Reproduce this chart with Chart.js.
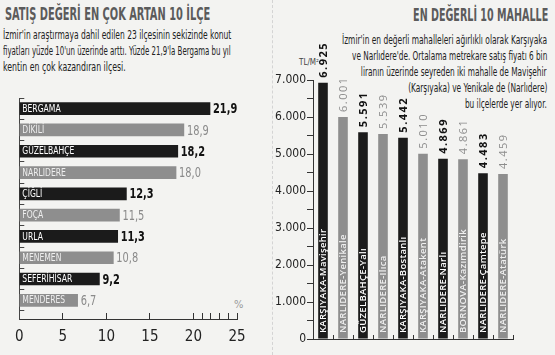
<!DOCTYPE html>
<html><head><meta charset="utf-8">
<script src="https://cdn.jsdelivr.net/npm/chart.js@4"></script>
<style>
html,body{margin:0;padding:0;}
body{width:555px;height:355px;background:#f3f3f1;position:relative;overflow:hidden;font-family:'Liberation Sans Narrow','DejaVu Sans Condensed',sans-serif;}
.t{position:absolute;white-space:nowrap;line-height:1;display:inline-block;}
.l{transform-origin:left center;}
.r{transform-origin:right center;}
.title{font-weight:bold;color:#5b5b5b;font-size:18px;}
.desc{color:#222;font-size:13px;}
.sep{position:absolute;left:272px;top:0;width:0;height:355px;border-left:1px dashed #d4d4d4;}
canvas{position:absolute;}
</style></head><body>
<div class="t l title" style="left:5px;top:5px" data-w="205">SATIŞ DEĞERİ EN ÇOK ARTAN 10 İLÇE</div>
<div class="t l desc" style="left:3px;top:28px" data-w="228">İzmir'in araştırmaya dahil edilen 23 ilçesinin sekizinde konut</div>
<div class="t l desc" style="left:3px;top:44px" data-w="228">fiyatları yüzde 10'un üzerinde arttı. Yüzde 21,9'la Bergama bu yıl</div>
<div class="t l desc" style="left:3px;top:60px" data-w="123">kentin en çok kazandıran ilçesi.</div>
<div class="t l" style="left:234px;top:299px;font-size:11px;color:#999">%</div>
<div class="sep"></div>
<div class="t r title" style="right:7px;top:6px" data-w="135">EN DEĞERLİ 10 MAHALLE</div>
<div class="t r desc" style="right:8px;top:33px" data-w="205">İzmir'in en değerli mahalleleri ağırlıklı olarak Karşıyaka</div>
<div class="t r desc" style="right:8px;top:49px" data-w="195">ve Narlıdere'de. Ortalama metrekare satış fiyatı 6 bin</div>
<div class="t r desc" style="right:8px;top:65px" data-w="186">liranın üzerinde seyreden iki mahalle de Mavişehir</div>
<div class="t r desc" style="right:8px;top:81px" data-w="139">(Karşıyaka) ve Yenikale de (Narlıdere)</div>
<div class="t r desc" style="right:8px;top:97px" data-w="82">bu ilçelerde yer alıyor.</div>
<div class="t l" style="left:299px;top:59px;font-size:8px;color:#444">TL/M²</div>
<canvas id="c1" width="275" height="265" style="left:0;top:90px;width:275px;height:265px"></canvas>
<canvas id="c2" width="293" height="325" style="left:262px;top:30px;width:293px;height:325px"></canvas>
<script>
// ---- data ----
const districts = ['BERGAMA','DİKİLİ','GÜZELBAHÇE','NARLIDERE','ÇİĞLİ','FOÇA','URLA','MENEMEN','SEFERİHİSAR','MENDERES'];
const increasePct = [21.9,18.9,18.2,18.0,12.3,11.5,11.3,10.8,9.2,6.7];
const pctTicks = [0,5,10,15,20,25];
const pctMinorTicks = [21,22,23,24];

const neighborhoods = ['KARŞIYAKA-Mavişehir','NARLIDERE-Yenikale','GÜZELBAHÇE-Yalı','NARLIDERE-Ilıca','KARŞIYAKA-Bostanlı','KARŞIYAKA-Atakent','NARLIDERE-Narlı','BORNOVA-Kazımdirik','NARLIDERE-Çamtepe','NARLIDERE-Atatürk'];
const pricePerM2 = [6925,6001,5591,5539,5442,5010,4869,4861,4483,4459];
const priceTicks = [0,1000,2000,3000,4000,5000,6000,7000];

// ---- styles ----
const DARK = '#1b1b1b', GRAY = '#8e8e8e';
const NARROW = "'Liberation Sans Narrow','DejaVu Sans Condensed',sans-serif";
const GEO = "'Open Sans','Lato',sans-serif";
const comma = v => v.toFixed(1).replace('.', ',');
const dots = v => v >= 1000 ? Math.floor(v/1000) + '.' + String(v%1000).padStart(3,'0') : String(v);

// fit text lines
document.querySelectorAll('[data-w]').forEach(el => {
  const s = (+el.dataset.w) / el.scrollWidth;
  el.style.transform = 'scaleX(' + s + ')';
});

// ---- left chart ----
const leftLabels = {
  id: 'leftLabels',
  afterDatasetsDraw(chart) {
    const ctx = chart.ctx;
    const meta = chart.getDatasetMeta(0);
    meta.data.forEach((bar, i) => {
      const dark = i % 2 === 0;
      ctx.save();
      ctx.translate(chart.chartArea.left + 3, bar.y + 0.5);
      ctx.scale(0.85, 1);
      ctx.font = '10px ' + NARROW;
      ctx.fillStyle = dark ? '#ffffff' : '#eeeeee';
      ctx.textAlign = 'left'; ctx.textBaseline = 'middle';
      ctx.fillText(districts[i], 0, 0);
      ctx.restore();
      ctx.save();
      ctx.translate(bar.x + 3, bar.y + 1);
      ctx.scale(0.78, 1);
      ctx.font = (dark ? 'bold ' : '') + '14px ' + NARROW;
      ctx.fillStyle = dark ? '#111' : '#8a8a8a';
      ctx.textAlign = 'left'; ctx.textBaseline = 'middle';
      ctx.fillText(comma(increasePct[i]), 0, 0);
      ctx.restore();
    });
  }
};

new Chart(document.getElementById('c1'), {
  type: 'bar',
  data: {
    datasets: [{
      data: increasePct.map((v, i) => ({ x: v, y: i })),
      backgroundColor: increasePct.map((v, i) => i % 2 === 0 ? DARK : GRAY),
      barThickness: 12
    }]
  },
  options: {
    indexAxis: 'y', responsive: false, animation: false,
    layout: { padding: { top: 8, right: 38, left: 0, bottom: 0 } },
    plugins: { legend: { display: false }, tooltip: { enabled: false } },
    scales: {
      x: {
        type: 'linear', min: 0, max: 25,
        afterBuildTicks: s => { s.ticks = pctTicks.concat(pctMinorTicks).sort((a,b)=>a-b).map(v => ({ value: v })); },
        ticks: { autoSkip: false, maxRotation: 0, padding: 15, color: '#222', font: { family: NARROW, size: 15 },
          callback: v => pctTicks.includes(v) ? String(v) : '' },
        grid: { drawOnChartArea: false, tickLength: -6, color: '#333' },
        border: { color: '#333' },
        afterFit: s => { s.height = 36; }
      },
      y: {
        type: 'linear', reverse: true, min: -0.5, max: 9.876, offset: false,
        afterBuildTicks: s => { s.ticks = districts.concat(['']).map((d, i) => ({ value: i - 0.5 })); },
        ticks: { display: false },
        grid: { drawOnChartArea: false, offset: false, tickLength: -5, color: '#444' },
        border: { color: '#444' },
        afterFit: s => { s.width = 10; }
      }
    }
  },
  plugins: [leftLabels]
});

// ---- right chart ----
const rightLabels = {
  id: 'rightLabels',
  afterDatasetsDraw(chart) {
    const ctx = chart.ctx;
    const meta = chart.getDatasetMeta(0);
    meta.data.forEach((bar, i) => {
      const dark = i % 2 === 0;
      ctx.save();
      ctx.translate(bar.x + 0.5, bar.y - 5);
      ctx.rotate(-Math.PI / 2);
      ctx.font = (dark ? 'bold ' : '') + '11px ' + GEO;
      ctx.letterSpacing = '1.5px';
      ctx.fillStyle = dark ? '#111' : '#8c8c8c';
      ctx.textAlign = 'left'; ctx.textBaseline = 'middle';
      ctx.fillText(dots(pricePerM2[i]), 0, 0);
      ctx.restore();
      ctx.save();
      ctx.translate(bar.x + 0.5, chart.chartArea.bottom - 6);
      ctx.rotate(-Math.PI / 2);
      ctx.font = '600 9.5px ' + GEO;
      ctx.letterSpacing = '0.3px';
      ctx.fillStyle = dark ? '#ffffff' : '#f0f0f0';
      ctx.textAlign = 'left'; ctx.textBaseline = 'middle';
      ctx.fillText(neighborhoods[i], 0, 0);
      ctx.restore();
    });
  }
};

new Chart(document.getElementById('c2'), {
  type: 'bar',
  data: {
    labels: neighborhoods,
    datasets: [{
      data: pricePerM2,
      backgroundColor: pricePerM2.map((v, i) => i % 2 === 0 ? DARK : GRAY),
      categoryPercentage: 1, barPercentage: 0.48
    }]
  },
  options: {
    responsive: false, animation: false,
    layout: { padding: { top: 50, right: 42, left: 0, bottom: 0 } },
    plugins: { legend: { display: false }, tooltip: { enabled: false } },
    scales: {
      x: {
        ticks: { display: false },
        grid: { drawOnChartArea: false, offset: true, tickLength: -4, color: '#333' },
        border: { color: '#333' },
        afterFit: s => { s.height = 16; }
      },
      y: {
        min: 0, max: 7000,
        ticks: { stepSize: 500, autoSkip: false, padding: 1, color: '#222', font: { family: NARROW, size: 12 },
          callback: v => priceTicks.includes(v) ? dots(v) : '' },
        grid: { drawOnChartArea: false, tickLength: 6, color: '#333' },
        border: { color: '#333' },
        afterFit: s => { s.width = 51; }
      }
    }
  },
  plugins: [rightLabels]
});
</script>
</body></html>
